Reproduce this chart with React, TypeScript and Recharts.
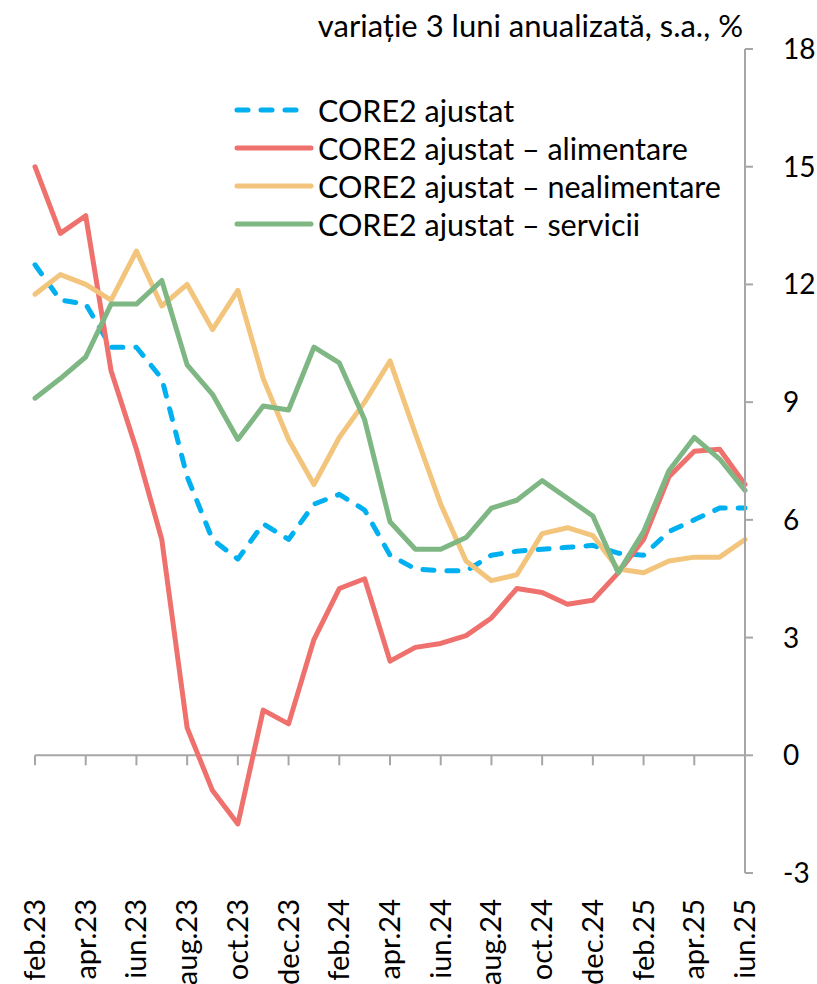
import React from "react";
import { LineChart, Line, XAxis, YAxis, ReferenceLine } from "recharts";

const months = [
  "feb.23", "mar.23", "apr.23", "mai.23", "iun.23", "iul.23", "aug.23", "sep.23", "oct.23", "nov.23",
  "dec.23", "ian.24", "feb.24", "mar.24", "apr.24", "mai.24", "iun.24", "iul.24", "aug.24", "sep.24",
  "oct.24", "nov.24", "dec.24", "ian.25", "feb.25", "mar.25", "apr.25", "mai.25", "iun.25",
];

const core2 = [
  12.5, 11.6, 11.5, 10.4, 10.4, 9.6, 7.1, 5.5, 5.0, 5.9, 5.5, 6.4, 6.65, 6.25, 5.1, 4.75, 4.7, 4.7,
  5.1, 5.2, 5.25, 5.3, 5.35, 5.15, 5.1, 5.7, 6.0, 6.3, 6.3,
];
const food = [
  15.0, 13.3, 13.75, 9.8, 7.8, 5.5, 0.7, -0.9, -1.75, 1.15, 0.8, 2.95, 4.25, 4.5, 2.4, 2.75, 2.85, 3.05,
  3.5, 4.25, 4.15, 3.85, 3.95, 4.65, 5.5, 7.1, 7.75, 7.8, 6.9,
];
const nonFood = [
  11.75, 12.25, 12.0, 11.6, 12.85, 11.45, 12.0, 10.85, 11.85, 9.6, 8.05, 6.9, 8.1, 9.0, 10.05, 8.2, 6.4,
  4.95, 4.45, 4.6, 5.65, 5.8, 5.6, 4.75, 4.65, 4.95, 5.05, 5.05, 5.5,
];
const services = [
  9.1, 9.6, 10.15, 11.5, 11.5, 12.1, 9.95, 9.2, 8.05, 8.9, 8.8, 10.4, 10.0, 8.55, 5.95, 5.25, 5.25, 5.55,
  6.3, 6.5, 7.0, 6.55, 6.1, 4.65, 5.7, 7.25, 8.1, 7.55, 6.75,
];

const yTicks = [-3, 0, 3, 6, 9, 12, 15, 18];

const series = [
  { key: "core2", name: "CORE2 ajustat", color: "#00B0F0", dash: "11 13" },
  { key: "food", name: "CORE2 ajustat \u2013 alimentare", color: "#EF716D", dash: undefined },
  { key: "nonFood", name: "CORE2 ajustat \u2013 nealimentare", color: "#F3C47C", dash: undefined },
  { key: "services", name: "CORE2 ajustat \u2013 servicii", color: "#7FB784", dash: undefined },
];

const data = months.map((m, i) => ({
  month: m,
  core2: core2[i],
  food: food[i],
  nonFood: nonFood[i],
  services: services[i],
}));

const FONT = "Lato, 'Open Sans', sans-serif";
const W = 817;
const H = 984;
const TOP = 49;
const PLOT_H = 824;
const Y_MIN = -3;
const Y_MAX = 18;
const zeroY = TOP + (PLOT_H * (Y_MAX - 0)) / (Y_MAX - Y_MIN);

function MonthTick(props: any) {
  const { x, payload } = props;
  return (
    <g>
      <line x1={x} x2={x} y1={zeroY} y2={zeroY + 10} stroke="#A6A6A6" strokeWidth={2} />
      <text
        transform={`translate(${x + 10}, 899) rotate(-90)`}
        textAnchor="end"
        fontSize={29}
        fontFamily={FONT}
        fill="#000"
      >
        {payload.value}
      </text>
    </g>
  );
}

function LegendBox() {
  return (
    <div
      style={{
        position: "absolute",
        top: 91,
        left: 232,
        fontFamily: FONT,
        fontSize: 30.5,
        color: "#000",
        zIndex: 2,
      }}
    >
      {series.map((s) => (
        <div key={s.key} style={{ display: "flex", alignItems: "center", height: 38 }}>
          <svg width={86} height={20}>
            <line
              x1={5}
              x2={s.dash ? 70 : 79}
              y1={10}
              y2={10}
              stroke={s.color}
              strokeWidth={5}
              strokeLinecap="round"
              strokeDasharray={s.dash}
            />
          </svg>
          <span style={{ whiteSpace: "nowrap" }}>{s.name}</span>
        </div>
      ))}
    </div>
  );
}

export default function App() {
  return (
    <div style={{ position: "relative", width: W, height: H, background: "#fff" }}>
      <style>{`body{margin:0}`}</style>
      <div
        style={{
          position: "absolute",
          top: 6,
          right: W - 743,
          fontFamily: FONT,
          fontSize: 31,
          color: "#000",
          whiteSpace: "nowrap",
          zIndex: 2,
        }}
      >
        variație 3 luni anualizată, s.a., %
      </div>
      <LegendBox />
      <LineChart width={W} height={H} data={data} margin={{ top: TOP, right: 0, bottom: 0, left: 35 }}>
        <XAxis
          dataKey="month"
          height={111}
          interval={1}
          axisLine={false}
          tickLine={false}
          tick={<MonthTick />}
        />
        <YAxis
          orientation="right"
          width={72}
          domain={[Y_MIN, Y_MAX]}
          ticks={yTicks}
          interval={0}
          axisLine={{ stroke: "#A6A6A6", strokeWidth: 2 }}
          tickLine={{ stroke: "#A6A6A6", strokeWidth: 2 }}
          tickSize={8}
          tickMargin={30}
          tick={{ fill: "#000", fontSize: 28, fontFamily: FONT, textAnchor: "start" }}
        />
        <ReferenceLine y={0} stroke="#A6A6A6" strokeWidth={2} />
        {series.map((s) => (
          <Line
            key={s.key}
            dataKey={s.key}
            name={s.name}
            stroke={s.color}
            strokeWidth={5}
            strokeDasharray={s.dash}
            strokeLinecap="round"
            strokeLinejoin="round"
            dot={false}
            activeDot={false}
            isAnimationActive={false}
          />
        ))}
      </LineChart>
    </div>
  );
}
